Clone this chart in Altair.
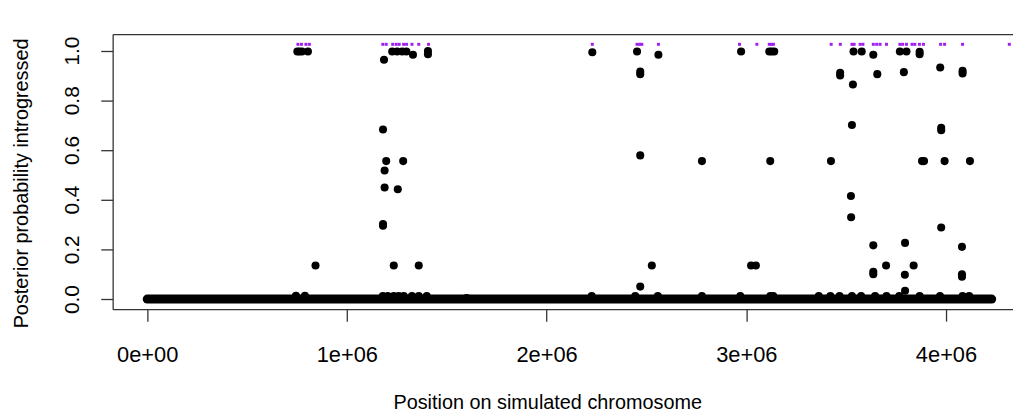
import altair as alt
import pandas as pd

# ---- data ----
# black points (position on chromosome, posterior probability)
black_pos = [
    752000, 762000, 775000, 805000, 745000, 790000, 843000,
    1186000, 1227000, 1252000, 1277000, 1298000, 1331000, 1406000, 1406000,
    1181000, 1197000, 1282000, 1189000, 1189000, 1255000, 1181000, 1181000,
    1235000, 1360000,
    1180000, 1205000, 1235000, 1260000, 1285000, 1326000, 1360000, 1400000, 1600000,
    2229000, 2453000, 2560000, 2469000, 2469000, 2974000, 3115000, 3127000, 3140000,
    3537000, 3578000, 3636000, 3769000, 3802000, 3868000, 3868000,
    3470000, 3470000, 3534000, 3656000, 3789000, 3971000, 4083000, 4083000,
    3529000, 3976000, 3976000,
    2469000, 2778000, 3120000, 3424000, 3880000, 3890000, 3993000, 4120000,
    3524000, 3525000, 3976000, 3636000, 3795000, 4080000,
    2527000, 3024000, 3048000, 3700000, 3838000,
    3636000, 3636000, 3794000, 4080000, 4080000,
    2469000, 3795000,
    2226000, 2444000, 2557000, 2778000, 2970000, 3120000, 3135000, 3363000,
    3421000, 3467000, 3529000, 3575000, 3645000, 3702000, 3766000, 3868000,
    3970000, 4083000, 4116000,
]
black_prob = [
    0.996, 0.996, 0.996, 0.996, 0.013, 0.013, 0.135,
    0.963, 0.996, 0.996, 0.996, 0.996, 0.983, 0.985, 0.998,
    0.682, 0.555, 0.555, 0.517, 0.449, 0.442, 0.302, 0.295,
    0.135, 0.135,
    0.012, 0.012, 0.012, 0.012, 0.012, 0.012, 0.012, 0.012, 0.004,
    0.993, 0.996, 0.983, 0.905, 0.915, 0.996, 0.996, 0.996, 0.996,
    0.996, 0.996, 0.983, 0.996, 0.996, 0.985, 0.995,
    0.900, 0.910, 0.863, 0.905, 0.913, 0.932, 0.908, 0.918,
    0.700, 0.679, 0.689,
    0.578, 0.555, 0.555, 0.555, 0.555, 0.555, 0.555, 0.555,
    0.415, 0.329, 0.288, 0.216, 0.226, 0.210,
    0.135, 0.135, 0.135, 0.135, 0.135,
    0.100, 0.110, 0.098, 0.090, 0.100,
    0.050, 0.033,
    0.012, 0.012, 0.012, 0.012, 0.012, 0.012, 0.012, 0.012,
    0.012, 0.012, 0.012, 0.012, 0.012, 0.012, 0.012, 0.012,
    0.012, 0.012, 0.012,
]

# dense run of zero-probability sites along the whole chromosome
zero_run_start = [0]
zero_run_end = [4229000]
zero_run_prob = [0.0]

# purple markers of truly introgressed sites (drawn just above 1.0)
purple_pos = [
    755000, 772500, 795000, 812000,
    1180000, 1197000, 1229500, 1247000, 1262000, 1284000, 1299000, 1326000,
    1360000, 1409000,
    2229000, 2453000, 2466000, 2477000, 2560000, 2966000, 3053000,
    3115000, 3125000, 3136000, 3425000, 3471000, 3529000, 3540000,
    3570000, 3584000, 3636000, 3653000, 3670000, 3702000, 3769000,
    3783000, 3802000, 3830000, 3844000, 3867000, 3887000, 3973000,
    3993000, 4083000, 4317000,
]
purple_level = [1.025] * len(purple_pos)

x_ticks = [0, 1000000, 2000000, 3000000, 4000000]
x_tick_labels = ["0e+00", "1e+06", "2e+06", "3e+06", "4e+06"]
y_ticks = [0.0, 0.2, 0.4, 0.6, 0.8, 1.0]

black_df = pd.DataFrame({"pos": black_pos, "prob": black_prob})
zero_df = pd.DataFrame({"start": zero_run_start, "end": zero_run_end, "prob": zero_run_prob})
purple_df = pd.DataFrame({"pos": purple_pos, "prob": purple_level})

FONT = "Liberation Sans"
W, H = 907.5, 277.3
x_scale = alt.Scale(domain=[-172700, 4335500], nice=False, zero=False)
y_scale = alt.Scale(domain=[-0.041, 1.066], nice=False, zero=False)

label_expr = " : ".join(
    f"datum.value == {v} ? '{t}'" for v, t in zip(x_ticks, x_tick_labels)
) + " : ''"

y_axis = alt.Axis(
    orient="left", values=y_ticks, format=".1f", labelAngle=-90,
    labelAlign="center", labelBaseline="bottom",
    title="Posterior probability introgressed", grid=False,
    tickSize=12, labelPadding=18,
    labelFontSize=21, titleFontSize=20,
    titleAngle=-90, titleAlign="center", titleBaseline="middle",
    titleX=-92, titleY=150,
)

zero_band = alt.Chart(zero_df).mark_rule(
    color="black", strokeWidth=9, strokeCap="round"
).encode(
    x=alt.X("start:Q", scale=x_scale, axis=None),
    x2="end:Q",
    y=alt.Y("prob:Q", scale=y_scale, axis=y_axis),
)

black_pts = alt.Chart(black_df).mark_circle(
    color="black", size=66, opacity=1
).encode(
    x=alt.X(
        "pos:Q", scale=x_scale,
        axis=alt.Axis(
            orient="bottom", values=x_ticks, labelExpr=label_expr,
            title="Position on simulated chromosome", grid=False,
            tickSize=12, labelPadding=24,
            labelFontSize=22, titleFontSize=20,
            titleX=438, titleY=94, titleBaseline="middle", titleAlign="center",
        ),
    ),
    y=alt.Y("prob:Q", scale=y_scale, axis=y_axis),
)

purple_pts = alt.Chart(purple_df).mark_square(
    color="#a020f0", size=9, opacity=1
).encode(
    x=alt.X(
        "pos:Q", scale=x_scale,
        axis=alt.Axis(orient="top", labels=False, ticks=False, title=None,
                      grid=False, domain=True),
    ),
    y=alt.Y("prob:Q", scale=y_scale, axis=y_axis),
)

chart = alt.layer(zero_band, black_pts, purple_pts).resolve_axis(
    x="independent"
).properties(
    width=W, height=H,
    autosize=alt.AutoSizeParams(type="none"),
    padding={"left": 105.5, "top": 24.7, "right": 0, "bottom": 108},
).configure_view(
    stroke=None
).configure_axis(
    labelFont=FONT, titleFont=FONT, labelColor="black", titleColor="black",
    domainColor="#333333", tickColor="#333333", domainWidth=1.3, tickWidth=1.3,
    titleFontWeight="normal",
)

chart.save("out.html", embed_options={"renderer": "svg", "actions": False})
